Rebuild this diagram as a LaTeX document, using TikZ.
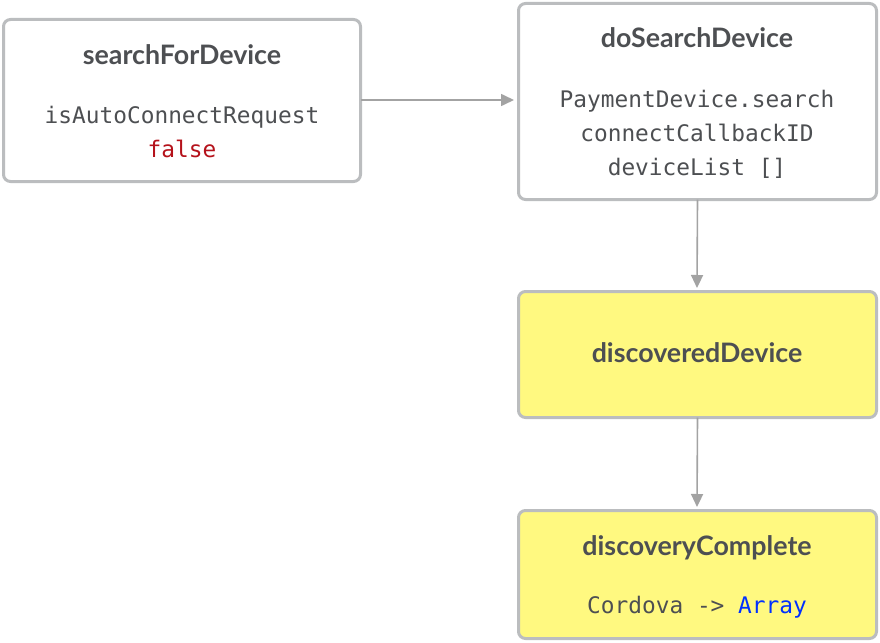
\documentclass[tikz,border=0pt]{standalone}
\usepackage{fontspec}
\setmainfont{Lato}
\newfontfamily\monof{DejaVu Sans Mono}
\usetikzlibrary{arrows.meta}
\definecolor{bordergray}{HTML}{BBBDBF}
\definecolor{txtgray}{HTML}{4D4F52}
\definecolor{boxyellow}{HTML}{FFF980}
\definecolor{falsered}{HTML}{B5121B}
\definecolor{arrblue}{HTML}{0030FF}
\definecolor{arrgray}{HTML}{A3A3A3}
\tikzset{
  x=1pt, y=-1pt,
  boxw/.style={draw=bordergray, line width=3pt, rounded corners=7pt, fill=white},
  boxy/.style={boxw, fill=boxyellow},
  ttl/.style={font=\fontsize{26.8}{30}\selectfont\bfseries, text=txtgray, inner sep=0pt, anchor=base},
  code/.style={font=\monof\fontsize{22.8}{34}\selectfont, text=txtgray, inner sep=0pt, anchor=base},
  conn/.style={draw=arrgray, line width=1.6pt, -{Triangle[length=13pt,width=12pt]}}
}
\begin{document}
\begin{tikzpicture}
\useasboundingbox (0,0) rectangle (880,642);
% boxes
\draw[boxw] (3.5,19.5) rectangle (360.5,181.5);
\node[inner sep=0pt, minimum width=357pt, minimum height=162pt] (b1) at (182,100.5) {};
\draw[boxw] (518.5,3.5) rectangle (876.5,199.5);
\node[inner sep=0pt, minimum width=358pt, minimum height=196pt] (b2) at (697.5,101.5) {};
\draw[boxy] (518.5,291.5) rectangle (876.5,417.5);
\node[inner sep=0pt, minimum width=358pt, minimum height=126pt] (b3) at (697.5,354.5) {};
\draw[boxy] (518.5,510.5) rectangle (876.5,638.5);
\node[inner sep=0pt, minimum width=358pt, minimum height=128pt] (b4) at (697.5,574.5) {};
% texts
\node[ttl] (t1) at (182,64) {searchForDevice};
\node[code] (c1a) at (182,123) {isAutoConnectRequest};
\node[code, text=falsered] (c1b) at (182,157) {false};
\node[ttl] (t2) at (697,48) {doSearchDevice};
\node[code] (c2a) at (697,107) {PaymentDevice.search};
\node[code] (c2b) at (697,141) {connectCallbackID};
\node[code] (c2c) at (697,175) {deviceList []};
\node[ttl] (t3) at (697,362) {discoveredDevice};
\node[ttl] (t4) at (697,555) {discoveryComplete};
\node[code] (c4) at (697,613) {Cordova -> \textcolor{arrblue}{Array}};
% connectors
\draw[conn] (b1.east |- 0,100) -- (514,100);
\draw[conn] (b2.south) -- (697,288);
\draw[conn] (b3.south) -- (697,507);
\end{tikzpicture}
\end{document}
